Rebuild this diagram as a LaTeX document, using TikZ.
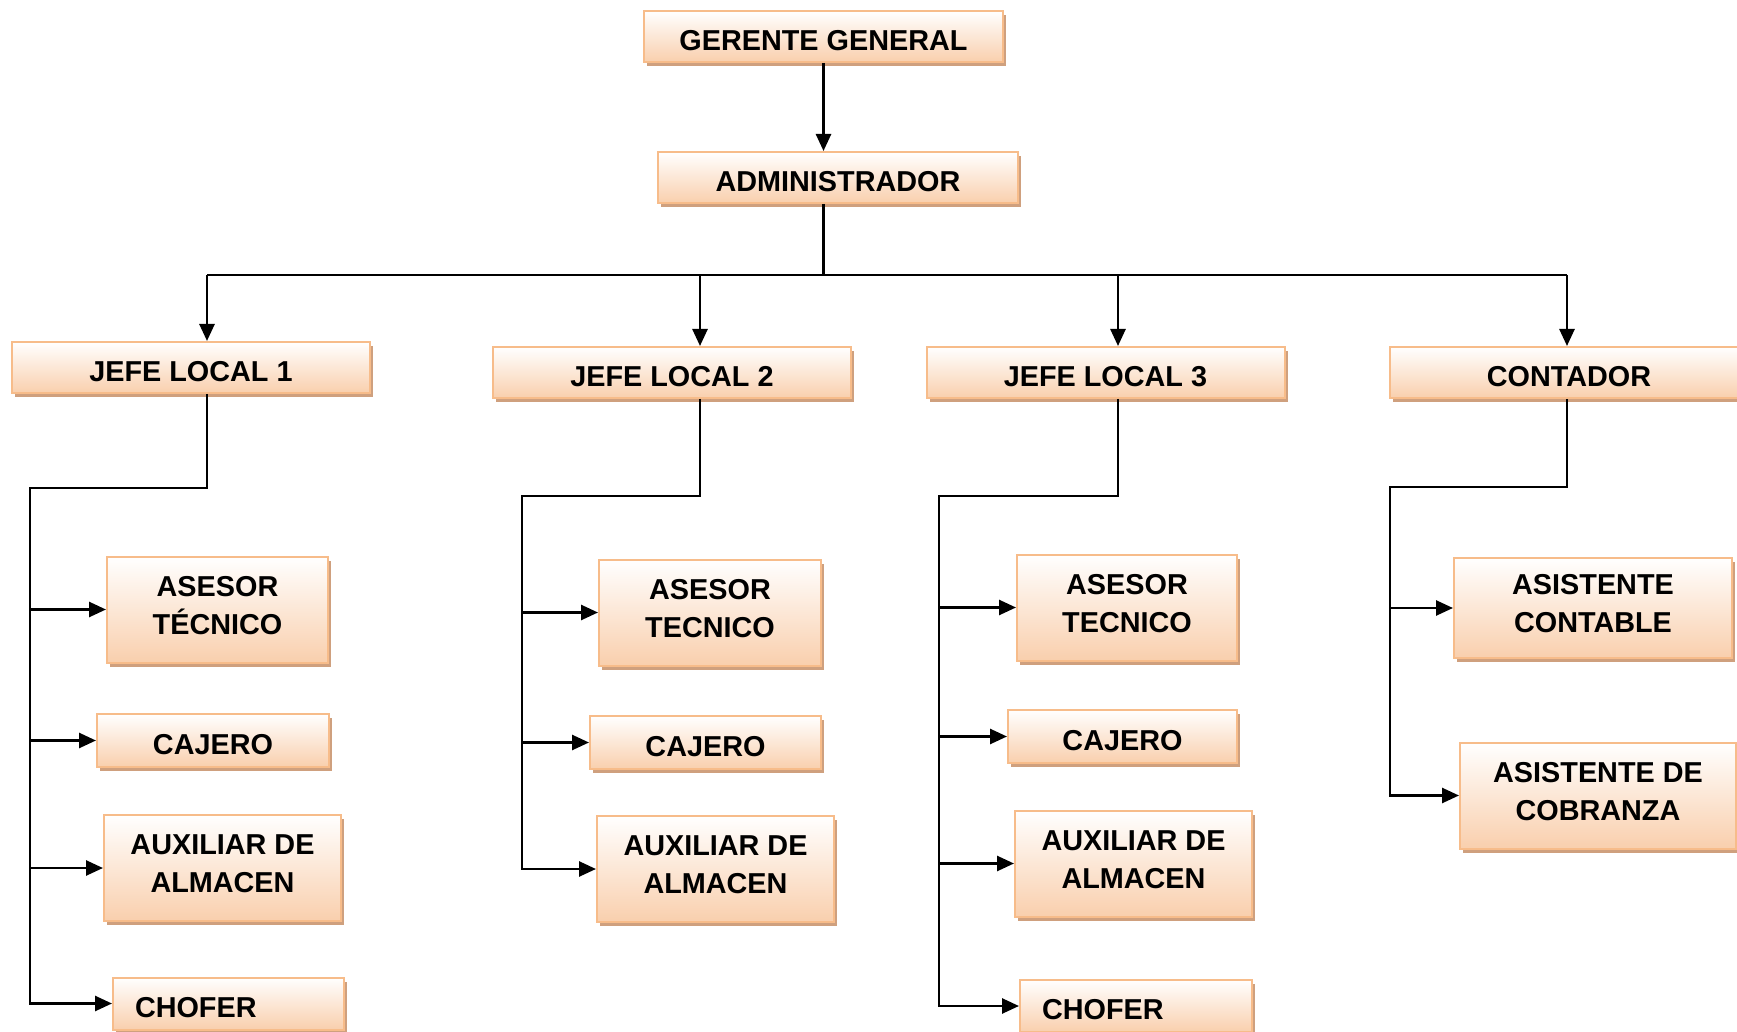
\documentclass[tikz,border=0pt]{standalone}
\usepackage{fontspec}
\setmainfont{Liberation Sans}
\usetikzlibrary{positioning,shadows,arrows.meta}
\definecolor{borde}{HTML}{F7BC8A}
\definecolor{relleno}{HTML}{F9CFAD}
\definecolor{sombra}{HTML}{CFA07E}

\begin{document}
\begin{tikzpicture}[x=0.5pt, y=-0.5pt,
    puesto/.style={draw=borde, line width=1pt, top color=white, bottom color=relleno,
      drop shadow={shadow xshift=1.6pt, shadow yshift=-2pt, fill=sombra, opacity=1},
      align=center, inner sep=0pt, font=\bfseries\fontsize{14.4}{19}\selectfont},
    uno/.style={puesto, text height=13.8pt, text depth=0pt},
    jefe/.style={uno, minimum width=179pt, minimum height=25.5pt},
    simple/.style={uno, minimum height=26.5pt},
    doble/.style={puesto, minimum height=53pt, text depth=4.4pt},
    chofer/.style={uno, minimum height=26pt, align=left, inner xsep=11pt},
    linea/.style={line width=1.3pt},
    flecha/.style={line width=1.3pt, -{Triangle[length=8.5pt,width=7.5pt]}}]
  \useasboundingbox (0,0) rectangle (1737,1032);
  \clip (0,0) rectangle (1737,1032);

  % direccion
  \node [uno, minimum width=179.5pt, minimum height=25.5pt] (gerente) at (823.5,36.5) {GERENTE GENERAL};
  \node [uno, minimum width=180pt, minimum height=25.5pt] (admin) at (838,177.5) {ADMINISTRADOR};

  % jefes
  \node [jefe] (jefe1) at (191,367.5) {JEFE LOCAL 1};
  \node [jefe] (jefe2) at (672,372.5) {JEFE LOCAL 2};
  \node [jefe] (jefe3) at (1105.5,372.5) {JEFE LOCAL 3};
  \node [jefe] (contador) at (1569,372.5) {CONTADOR};

  % local 1
  \node [doble, minimum width=110.5pt] (as1) at (217.5,609.5) {ASESOR\\TÉCNICO};
  \node [simple, minimum width=116pt] (ca1) at (213,740.5) {CAJERO};
  \node [doble, minimum width=118.5pt] (au1) at (222.5,868) {AUXILIAR DE\\ALMACEN};
  \node [chofer, text width=93.5pt] (ch1) at (228.5,1003.5) {CHOFER};

  % local 2
  \node [doble, minimum width=111pt] (as2) at (710,612.5) {ASESOR\\TECNICO};
  \node [simple, minimum width=115.5pt] (ca2) at (705.5,742.5) {CAJERO};
  \node [doble, minimum width=118.5pt] (au2) at (715.5,869) {AUXILIAR DE\\ALMACEN};

  % local 3
  \node [doble, minimum width=110pt] (as3) at (1127,607.5) {ASESOR\\TECNICO};
  \node [simple, minimum width=114.5pt] (ca3) at (1122.5,736.5) {CAJERO};
  \node [doble, minimum width=118.5pt] (au3) at (1133.5,863.5) {AUXILIAR DE\\ALMACEN};
  \node [chofer, text width=94pt] (ch3) at (1136,1006) {CHOFER};

  % contabilidad
  \node [doble, minimum width=139pt, minimum height=50pt] (ac4) at (1593,608) {ASISTENTE\\CONTABLE};
  \node [doble, minimum width=138pt] (co4) at (1598,795.5) {ASISTENTE DE\\COBRANZA};

  % conexiones
  \coordinate (t1) at (207,275);
  \coordinate (t2) at (700,275);
  \coordinate (t3) at (1118,275);
  \coordinate (t4) at (1567,275);
  \coordinate (e1) at (30,488);
  \coordinate (e2) at (522,496);
  \coordinate (e3) at (939,496);
  \coordinate (e4) at (1390,487);

  \draw [flecha] (gerente) -- (admin.north -| gerente.south);
  \draw [linea] (admin.south -| gerente.south) -- (gerente.south |- t1);
  \draw [linea] (t1) -- (t4);
  \foreach \t/\j in {t1/jefe1, t2/jefe2, t3/jefe3, t4/contador}
    \draw [flecha] (\t) -- (\t |- \j.north);

  \draw [flecha] (t1 |- jefe1.south) |- (e1) |- (ch1.west);
  \foreach \n in {as1, ca1, au1}
    \draw [flecha] (e1 |- \n.west) -- (\n.west);
  \draw [flecha] (t2 |- jefe2.south) |- (e2) |- (au2.west);
  \foreach \n in {as2, ca2}
    \draw [flecha] (e2 |- \n.west) -- (\n.west);
  \draw [flecha] (t3 |- jefe3.south) |- (e3) |- (ch3.west);
  \foreach \n in {as3, ca3, au3}
    \draw [flecha] (e3 |- \n.west) -- (\n.west);
  \draw [flecha] (t4 |- contador.south) |- (e4) |- (co4.west);
  \draw [flecha] (e4 |- ac4.west) -- (ac4.west);
\end{tikzpicture}
\end{document}
